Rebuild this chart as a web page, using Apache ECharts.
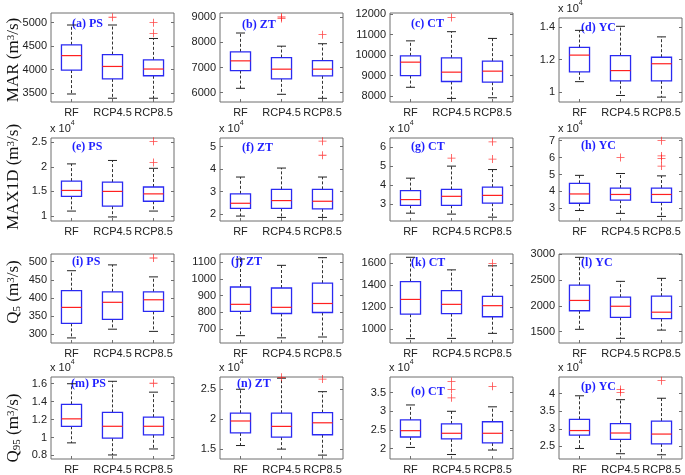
<!DOCTYPE html>
<html><head><meta charset="utf-8">
<script src="https://cdn.jsdelivr.net/npm/echarts@6/dist/echarts.min.js"></script>
<style>html,body{margin:0;padding:0;background:#fff}#c{width:685px;height:475px}</style>
</head><body><div id="c"></div>
<script>
const categories = ['RF', 'RCP4.5', 'RCP8.5'];
// each box: [lower whisker, Q1, median, Q3, upper whisker] for RF, RCP4.5, RCP8.5 (m3/s)
const marPS = [[3485, 3993, 4300, 4530, 4950], [3395, 3806, 4070, 4323, 4950], [3395, 3872, 4015, 4210, 4664]];
const marPSOut = [[1, 5115], [2, 5000], [2, 4774]];
const marZT = [[6175, 6881, 7267, 7625, 8374], [5936, 6550, 6936, 7398, 7850], [5777, 6670, 6936, 7279, 7948]];
const marZTOut = [[1, 8950], [1, 9010], [2, 8306]];
const marCT = [[8426, 9000, 9657, 9966, 10700], [7880, 8710, 9167, 9868, 11150], [7912, 8676, 9216, 9706, 10820]];
const marCTOut = [[1, 11850]];
const marYC = [[10650, 11250, 12280, 12750, 13800], [9800, 10700, 11330, 12250, 14050], [9700, 10700, 11750, 12150, 13400]];
const marYCOut = [];
const maxPS = [[11000, 14000, 15200, 17100, 20600], [9800, 12000, 15000, 16900, 21300], [11000, 13000, 14500, 15900, 19700]];
const maxPSOut = [[2, 25200], [2, 20900]];
const maxZT = [[19100, 22500, 24800, 29000, 36500], [18500, 22500, 26000, 31000, 40500], [18500, 22300, 25700, 31000, 36500]];
const maxZTOut = [[2, 52500], [2, 46200]];
const maxCT = [[25400, 29500, 32500, 37200, 43700], [24900, 29500, 34200, 37800, 50000], [23300, 30600, 34700, 39000, 48200]];
const maxCTOut = [[1, 54200], [2, 62700], [2, 53700]];
const maxYC = [[28700, 33000, 38500, 44800, 49500], [27000, 34800, 38200, 42000, 50600], [25200, 33500, 38200, 42000, 49200]];
const maxYCOut = [[1, 60000], [2, 70000], [2, 61000], [2, 59500], [2, 55000]];
const q5PS = [[290, 330, 374, 420, 475], [314, 341, 388, 417, 491], [308, 363, 395, 417, 458]];
const q5PSOut = [[2, 510]];
const q5ZT = [[660, 806, 848, 952, 1120], [647, 793, 830, 946, 1082], [652, 799, 853, 975, 1128]];
const q5ZTOut = [];
const q5CT = [[912, 1135, 1270, 1433, 1655], [914, 1140, 1225, 1350, 1540], [960, 1112, 1213, 1298, 1577]];
const q5CTOut = [[2, 1600]];
const q5YC = [[1545, 1905, 2105, 2400, 2940], [1370, 1778, 1992, 2168, 2475], [1530, 1752, 1877, 2188, 2533]];
const q5YCOut = [];
const q95PS = [[9400, 11250, 12080, 13700, 16000], [8050, 9920, 11250, 12800, 16270], [8720, 10300, 11250, 12270, 15060]];
const q95PSOut = [[2, 16050]];
const q95ZT = [[15600, 17700, 19700, 21000, 25000], [15000, 17000, 18800, 21000, 26850], [14000, 17400, 19400, 21100, 24600]];
const q95ZTOut = [[1, 27000], [2, 26700]];
const q95CT = [[20300, 23100, 24800, 27700, 31700], [18400, 22600, 24100, 26600, 30000], [19600, 21500, 24100, 27200, 31200]];
const q95CTOut = [[1, 38000], [1, 35900], [1, 33600], [2, 36700]];
const q95YC = [[24400, 28200, 29500, 32700, 39400], [22900, 27000, 28800, 31500, 38300], [22600, 25700, 28500, 32200, 38700]];
const q95YCOut = [[1, 41200], [1, 40400], [2, 43700]];

// tick values
const ticksA = [3500, 4000, 4500, 5000];
const ticksB = [6000, 7000, 8000, 9000];
const ticksC = [8000, 9000, 10000, 11000, 12000];
const ticksD = [10000, 12000, 14000];
const ticksE = [10000, 15000, 20000, 25000];
const ticksF = [20000, 30000, 40000, 50000];
const ticksG = [30000, 40000, 50000, 60000];
const ticksH = [30000, 40000, 50000, 60000, 70000];
const ticksI = [300, 350, 400, 450, 500];
const ticksJ = [700, 800, 900, 1000, 1100];
const ticksK = [1000, 1200, 1400, 1600];
const ticksL = [1500, 2000, 2500, 3000];
const ticksM = [8000, 10000, 12000, 14000, 16000];
const ticksN = [15000, 20000, 25000];
const ticksO = [20000, 25000, 30000, 35000];
const ticksP = [25000, 30000, 35000, 40000];

const panelTitles = ['(a) PS', '(b) ZT', '(c) CT', '(d) YC', '(e) PS', '(f) ZT', '(g) CT', '(h) YC',
  '(i) PS', '(j) ZT', '(k) CT', '(l) YC', '(m) PS', '(n) ZT', '(o) CT', '(p) YC'];

const panels = [
  {s: marPS, o: marPSOut, t: ticksA, r: [3315, 5205], e: false, tp: [72, 24]},
  {s: marZT, o: marZTOut, t: ticksB, r: [5630, 9170], e: false, tp: [242, 25]},
  {s: marCT, o: marCTOut, t: ticksC, r: [7705, 12065], e: false, tp: [411, 24]},
  {s: marYC, o: marYCOut, t: ticksD, r: [9400, 14560], e: true, tp: [581, 28]},
  {s: maxPS, o: maxPSOut, t: ticksE, r: [8980, 25870], e: true, tp: [72, 147]},
  {s: maxZT, o: maxZTOut, t: ticksF, r: [16900, 53900], e: true, tp: [242, 148]},
  {s: maxCT, o: maxCTOut, t: ticksG, r: [21300, 64700], e: true, tp: [411, 147]},
  {s: maxYC, o: maxYCOut, t: ticksH, r: [22500, 71600], e: true, tp: [581, 146]},
  {s: q5PS, o: q5PSOut, t: ticksI, r: [276, 521], e: false, tp: [72, 262]},
  {s: q5ZT, o: q5ZTOut, t: ticksJ, r: [616, 1150], e: false, tp: [231, 262]},
  {s: q5CT, o: q5CTOut, t: ticksK, r: [872, 1685], e: false, tp: [411, 263]},
  {s: q5YC, o: q5YCOut, t: ticksL, r: [1280, 3005], e: false, tp: [581, 263]},
  {s: q95PS, o: q95PSOut, t: ticksM, r: [7600, 16750], e: true, tp: [71, 384]},
  {s: q95ZT, o: q95ZTOut, t: ticksN, r: [13350, 27050], e: true, tp: [237, 384]},
  {s: q95CT, o: q95CTOut, t: ticksO, r: [17200, 39200], e: true, tp: [411, 392]},
  {s: q95YC, o: q95YCOut, t: ticksP, r: [21400, 44750], e: true, tp: [581, 387]}
];

const colLeft = [51, 220, 390, 559];
const colWidth = 123;
const rowTop = [13, 138, 254, 377];
const rowHeight = [89, 83, 89, 85];

const SANS = '"Liberation Sans", Arial, sans-serif';
const SERIF = '"Liberation Serif", "Times New Roman", serif';
const FRAME = '#6e6e6e';
const BOX = '#2a2af2';

function renderBox(params, api) {
  const x = api.value(0);
  const lo = api.coord([x, api.value(1)]);
  const q1 = api.coord([x, api.value(2)]);
  const md = api.coord([x, api.value(3)]);
  const q3 = api.coord([x, api.value(4)]);
  const hi = api.coord([x, api.value(5)]);
  const band = api.size([1, 0])[0];
  const hw = band * 0.245, cw = band * 0.11, cx = lo[0];
  const dash = {stroke: '#333', lineWidth: 1, lineDash: [3, 2]};
  const solid = {stroke: '#222', lineWidth: 1};
  return {type: 'group', children: [
    {type: 'line', shape: {x1: cx, y1: q3[1], x2: cx, y2: hi[1]}, style: dash},
    {type: 'line', shape: {x1: cx, y1: q1[1], x2: cx, y2: lo[1]}, style: dash},
    {type: 'line', shape: {x1: cx - cw, y1: hi[1], x2: cx + cw, y2: hi[1]}, style: solid},
    {type: 'line', shape: {x1: cx - cw, y1: lo[1], x2: cx + cw, y2: lo[1]}, style: solid},
    {type: 'rect', shape: {x: cx - hw, y: q3[1], width: 2 * hw, height: q1[1] - q3[1]}, style: {fill: 'none', stroke: BOX, lineWidth: 1.3}},
    {type: 'line', shape: {x1: cx - hw, y1: md[1], x2: cx + hw, y2: md[1]}, style: {stroke: '#ff2020', lineWidth: 1.2}}
  ]};
}

function fmt(v, e) {
  if (!e) return String(v);
  return String(Math.round(v / 1e4 * 100) / 100);
}

const grid = [], xAxis = [], yAxis = [], series = [], graphic = [];
panels.forEach((p, i) => {
  const row = Math.floor(i / 4), col = i % 4;
  grid.push({left: colLeft[col], top: rowTop[row], width: colWidth, height: rowHeight[row],
    show: true, borderColor: FRAME, borderWidth: 1, backgroundColor: 'transparent'});
  xAxis.push({type: 'category', gridIndex: i, data: categories, boundaryGap: true,
    axisLine: {show: false}, axisTick: {show: true, inside: true, length: 3, alignWithLabel: true, lineStyle: {color: FRAME}},
    axisLabel: {interval: 0, fontSize: 11, color: '#222', fontFamily: SANS, margin: 5, hideOverlap: false},
    splitLine: {show: false}});
  const yBase = {type: 'value', gridIndex: i, min: p.r[0], max: p.r[1], scale: true,
    splitLine: {show: false}, axisLine: {show: false},
    axisTick: {show: true, inside: true, length: 3, customValues: p.t, lineStyle: {color: FRAME}}};
  yAxis.push(Object.assign({}, yBase, {position: 'left',
    axisLabel: {fontSize: 11, color: '#222', fontFamily: SANS, margin: 4, customValues: p.t, showMinLabel: true, showMaxLabel: true,
      formatter: v => fmt(v, p.e)},
    name: p.e ? '{a|x 10}{s|4}' : '', nameLocation: 'end', nameGap: 4,
    nameTextStyle: {align: 'left', verticalAlign: 'bottom', padding: [0, 0, 0, -1],
      rich: {a: {fontSize: 11, color: '#222', fontFamily: SANS, lineHeight: 14, verticalAlign: 'bottom'},
             s: {fontSize: 7, color: '#222', fontFamily: SANS, lineHeight: 14, verticalAlign: 'top'}}}}));
  yAxis.push(Object.assign({}, yBase, {position: 'right', axisLabel: {show: false}}));
  series.push({type: 'custom', xAxisIndex: i, yAxisIndex: 2 * i, renderItem: renderBox,
    encode: {x: 0, y: [1, 2, 3, 4, 5]},
    data: p.s.map((b, k) => [k].concat(b)), silent: true, animation: false});
  series.push({type: 'scatter', xAxisIndex: i, yAxisIndex: 2 * i,
    symbol: 'path://M4.5,0h1v4.5h4.5v1h-4.5v4.5h-1v-4.5h-4.5v-1h4.5z', symbolSize: 8,
    itemStyle: {color: '#ff1a1a'}, data: p.o, silent: true, animation: false});
  graphic.push({type: 'text', x: p.tp[0], y: p.tp[1], silent: true,
    style: {text: panelTitles[i], fill: '#1f1fff', font: 'bold 12px ' + SERIF, align: 'left', verticalAlign: 'middle'}});
});

const yLabels = [
  {pre: 'MAR (m', sub: '', y: 60},
  {pre: 'MAX1D (m', sub: '', y: 177},
  {pre: 'Q', sub: '5', y: 292},
  {pre: 'Q', sub: '95', y: 428}
];
const richY = {
  b: {fontSize: 17, fontFamily: SERIF, fill: '#111', color: '#111', lineHeight: 17, verticalAlign: 'middle'},
  p: {fontSize: 11, fontFamily: SERIF, fill: '#111', color: '#111', lineHeight: 11, verticalAlign: 'top'},
  u: {fontSize: 11, fontFamily: SERIF, fill: '#111', color: '#111', lineHeight: 11, verticalAlign: 'bottom'}
};
yLabels.forEach(l => {
  let t;
  if (l.sub) t = '{b|Q}{u|' + l.sub + '}{b| (m}{p|3}{b|/s)}';
  else t = '{b|' + l.pre + '}{p|3}{b|/s)}';
  graphic.push({type: 'text', x: 14, y: l.y, rotation: Math.PI / 2, silent: true,
    style: {text: t, rich: richY, align: 'center', verticalAlign: 'middle'}});
});

const chart = echarts.init(document.getElementById('c'), null, {renderer: 'canvas'});
chart.setOption({animation: false, backgroundColor: '#fff', grid, xAxis, yAxis, series, graphic});
</script></body></html>
